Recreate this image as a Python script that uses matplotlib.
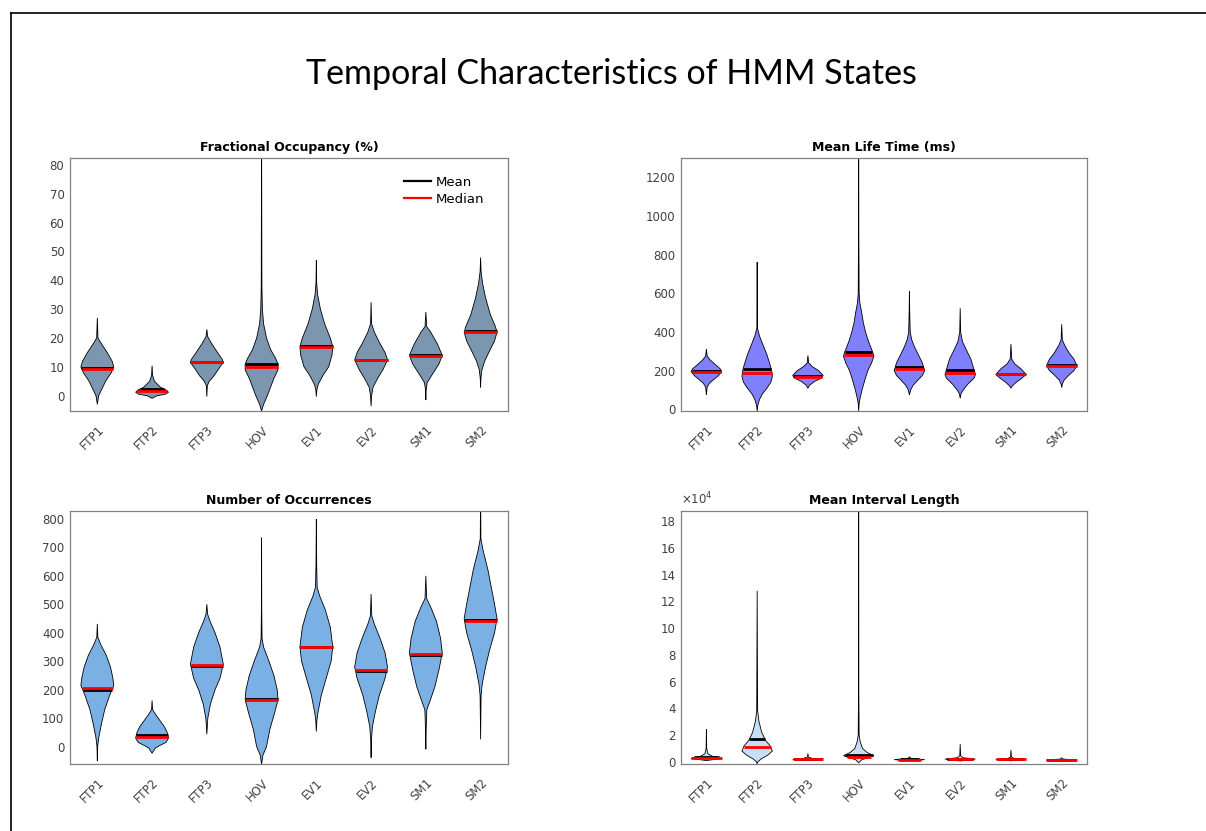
import numpy as np
import matplotlib
matplotlib.use("Agg")
import matplotlib.pyplot as plt
from matplotlib.lines import Line2D
from matplotlib.ticker import FuncFormatter

states = ["FTP1", "FTP2", "FTP3", "HOV", "EV1", "EV2", "SM1", "SM2"]

# ---- Fractional Occupancy (%) ----
fo_mean = [9.6, 2.3, 11.7, 11.1, 17.2, 12.4, 14.2, 22.6]
fo_median = [9.2, 1.7, 11.6, 10.1, 17.0, 12.4, 13.9, 22.0]
# density outline per state: levels (top to bottom) and relative half-widths
fo_levels = [
    [27, 20, 18, 15, 12, 10, 8, 5, 2, 0, -3],
    [10.4, 7, 5, 3, 2, 1.2, 0.5, 0, -0.9],
    [23, 20.5, 18, 15, 12.5, 11.5, 10, 7, 5, 3.5, -0.3],
    [95, 38, 30, 25, 20, 16, 13, 11, 9, 6, 3, 0, -3, -5.3],
    [47, 39, 35, 30, 25, 20, 17, 14, 10, 7, 4, 2, -0.3],
    [32.4, 25, 22, 18, 15, 12.4, 9, 6, 3, 0, -3.6],
    [29, 24, 22, 18, 14, 11, 7, 4.5, 2, -1.5],
    [47.9, 43, 39, 34, 28, 24, 22, 19, 15, 12, 9, 6, 2.9],
]
fo_widths = [
    [0, 0.04, 0.25, 0.6, 0.9, 1.0, 0.85, 0.5, 0.25, 0.08, 0],
    [0, 0.03, 0.15, 0.5, 0.85, 1.0, 0.8, 0.3, 0],
    [0, 0.05, 0.3, 0.65, 0.95, 1.0, 0.8, 0.45, 0.15, 0.03, 0],
    [0, 0.02, 0.05, 0.12, 0.3, 0.55, 0.85, 1.0, 1.0, 0.75, 0.55, 0.35, 0.12, 0],
    [0, 0.02, 0.08, 0.25, 0.5, 0.85, 1.0, 0.95, 0.75, 0.4, 0.12, 0.03, 0],
    [0, 0.03, 0.2, 0.55, 0.85, 1.0, 0.72, 0.4, 0.12, 0.03, 0],
    [0, 0.05, 0.3, 0.7, 1.0, 0.8, 0.35, 0.08, 0.02, 0],
    [0, 0.03, 0.12, 0.3, 0.6, 0.9, 1.0, 0.85, 0.5, 0.25, 0.08, 0.02, 0],
]

# ---- Mean Life Time (ms) ----
lt_mean = [199, 207, 170, 299, 221, 204, 185, 230]
lt_median = [192, 190, 169, 282, 207, 187, 181, 225]
lt_levels = [
    [312, 275, 255, 230, 210, 195, 175, 155, 135, 115, 74],
    [762, 420, 380, 330, 280, 230, 200, 170, 140, 110, 80, 50, 20, -9],
    [278, 240, 220, 200, 175, 160, 145, 125, 109],
    [1500, 900, 600, 550, 500, 450, 400, 350, 300, 275, 240, 200, 150, 100, 60, 30, -9],
    [610, 500, 400, 360, 320, 280, 240, 200, 175, 150, 125, 100, 74],
    [523, 400, 350, 300, 260, 220, 180, 160, 130, 100, 80, 57],
    [337, 260, 235, 210, 180, 160, 140, 120, 109],
    [440, 360, 330, 290, 260, 225, 200, 175, 150, 130, 112],
]
lt_widths = [
    [0, 0.05, 0.25, 0.6, 0.9, 1.0, 0.8, 0.5, 0.2, 0.05, 0],
    [0, 0.02, 0.15, 0.4, 0.65, 0.85, 0.95, 1.0, 0.9, 0.65, 0.35, 0.15, 0.04, 0],
    [0, 0.05, 0.3, 0.7, 1.0, 0.85, 0.45, 0.12, 0],
    [0, 0.01, 0.03, 0.08, 0.2, 0.3, 0.45, 0.65, 0.9, 1.0, 0.85, 0.6, 0.4, 0.22, 0.1, 0.03, 0],
    [0, 0.02, 0.05, 0.15, 0.35, 0.6, 0.85, 1.0, 0.85, 0.55, 0.25, 0.08, 0],
    [0, 0.03, 0.15, 0.45, 0.7, 0.85, 1.0, 0.9, 0.5, 0.2, 0.05, 0],
    [0, 0.05, 0.25, 0.65, 1.0, 0.7, 0.35, 0.08, 0],
    [0, 0.04, 0.2, 0.5, 0.8, 1.0, 0.8, 0.45, 0.15, 0.04, 0],
]

# ---- Number of Occurrences ----
no_mean = [199, 40, 284, 166, 351, 266, 322, 444]
no_median = [205, 35, 286, 164, 349, 269, 327, 443]
no_levels = [
    [431, 385, 360, 320, 280, 240, 215, 180, 130, 80, 30, 0, -50],
    [162, 130, 110, 90, 70, 50, 30, 15, 5, -5, -23],
    [500, 465, 440, 400, 350, 290, 240, 200, 150, 100, 44],
    [734, 480, 380, 350, 300, 250, 200, 165, 120, 60, 0, -30, -62],
    [799, 640, 560, 530, 480, 420, 350, 300, 240, 180, 120, 90, 53],
    [536, 460, 430, 380, 330, 280, 240, 180, 120, 70, 20, -39],
    [600, 520, 490, 440, 380, 330, 270, 210, 160, 130, 60, -9],
    [900, 730, 690, 620, 560, 500, 450, 400, 340, 280, 220, 180, 26],
]
no_widths = [
    [0, 0.03, 0.2, 0.55, 0.8, 0.95, 1.0, 0.75, 0.45, 0.25, 0.08, 0.02, 0],
    [0, 0.03, 0.25, 0.5, 0.75, 0.92, 1.0, 0.85, 0.5, 0.2, 0],
    [0, 0.05, 0.2, 0.5, 0.8, 1.0, 0.8, 0.5, 0.22, 0.06, 0],
    [0, 0.01, 0.03, 0.12, 0.45, 0.75, 0.95, 1.0, 0.8, 0.5, 0.3, 0.08, 0],
    [0, 0.02, 0.05, 0.2, 0.55, 0.85, 1.0, 0.9, 0.6, 0.3, 0.1, 0.03, 0],
    [0, 0.04, 0.2, 0.55, 0.85, 1.0, 0.85, 0.5, 0.25, 0.08, 0.02, 0],
    [0, 0.05, 0.3, 0.65, 0.9, 1.0, 0.8, 0.55, 0.25, 0.06, 0.02, 0],
    [0, 0.02, 0.15, 0.45, 0.65, 0.85, 1.0, 0.85, 0.55, 0.3, 0.1, 0.03, 0],
]

# ---- Mean Interval Length ----
il_mean = [3200, 16700, 1900, 5000, 2000, 2200, 2000, 1300]
il_median = [2500, 11200, 1800, 3700, 1300, 1700, 1800, 1200]
il_levels = [
    [24300, 10000, 6000, 4000, 3000, 2500, 1800, 1200, 800],
    [128000, 38000, 30000, 22000, 16000, 12000, 8000, 5000, 2000, 0, -1500],
    [6200, 3500, 2500, 1800, 1200, 800],
    [250000, 52000, 20000, 15000, 10000, 7000, 4500, 3000, 1500, -800],
    [3700, 2500, 2000, 1600, 1000, 500],
    [13200, 4500, 3000, 2000, 1200, 600],
    [8700, 3500, 2500, 1800, 1200, 700],
    [3000, 2000, 1400, 1200, 800, 400],
]
il_widths = [
    [0, 0.02, 0.1, 0.4, 0.9, 1.0, 0.6, 0.2, 0],
    [0, 0.03, 0.12, 0.3, 0.55, 0.85, 1.0, 0.7, 0.25, 0.05, 0],
    [0, 0.03, 0.3, 1.0, 0.4, 0],
    [0, 0.01, 0.03, 0.1, 0.25, 0.55, 1.0, 0.6, 0.2, 0],
    [0, 0.1, 0.6, 1.0, 0.5, 0],
    [0, 0.03, 0.2, 1.0, 0.5, 0],
    [0, 0.03, 0.2, 1.0, 0.4, 0],
    [0, 0.1, 0.9, 1.0, 0.4, 0],
]

HALF = 0.3
TICK_COLOR = "#404040"
EDGE_COLOR = "#808080"


def draw_violins(ax, levels, widths, means, medians, face):
    for i, (lv, wd) in enumerate(zip(levels, widths), start=1):
        y = np.asarray(lv, float)
        w = np.asarray(wd, float) * HALF
        xs = np.concatenate([i + w, (i - w)[::-1]])
        ys = np.concatenate([y, y[::-1]])
        ax.fill(xs, ys, facecolor=face, edgecolor="black", linewidth=0.6, zorder=2)
        ya, wa = y[::-1], w[::-1]
        for val, col in ((means[i - 1], "black"), (medians[i - 1], "red")):
            h = np.interp(val, ya, wa)
            ax.plot([i - h, i + h], [val, val], color=col, linewidth=2.0,
                    solid_capstyle="butt", zorder=3)


def style_axes(ax, title, ylim, yticks):
    ax.set_xlim(0.5, 8.5)
    ax.set_ylim(*ylim)
    ax.set_yticks(yticks)
    ax.set_xticks(range(1, 9))
    ax.set_xticklabels(states, rotation=45, ha="right", rotation_mode="anchor")
    ax.tick_params(length=0, labelsize=8.5, labelcolor=TICK_COLOR, pad=4)
    ax.tick_params(axis="x", pad=9)
    for sp in ax.spines.values():
        sp.set_color(EDGE_COLOR)
        sp.set_linewidth(0.9)
    ax.set_title(title, fontsize=9, fontweight="bold", pad=5)


fig = plt.figure(figsize=(12.06, 8.31), dpi=100)
fig.patch.set_facecolor("white")

ax1 = fig.add_axes([0.058, 0.5054, 0.3632, 0.3048])
ax2 = fig.add_axes([0.5647, 0.5054, 0.3367, 0.3048])
ax3 = fig.add_axes([0.058, 0.0806, 0.3632, 0.3049])
ax4 = fig.add_axes([0.5647, 0.0806, 0.3367, 0.3049])

draw_violins(ax1, fo_levels, fo_widths, fo_mean, fo_median, "#7b96ae")
style_axes(ax1, "Fractional Occupancy (%)", (-5.3, 82.5), range(0, 81, 10))
ax1.legend(handles=[Line2D([], [], color="black", lw=1.6, label="Mean"),
                    Line2D([], [], color="red", lw=1.6, label="Median")],
           loc="upper right", bbox_to_anchor=(0.96, 0.955), frameon=False,
           fontsize=9.5, handlelength=2.1, handletextpad=0.3,
           borderpad=0, labelspacing=0.3)

draw_violins(ax2, lt_levels, lt_widths, lt_mean, lt_median, "#8080ff")
style_axes(ax2, "Mean Life Time (ms)", (-9, 1302), range(0, 1201, 200))

draw_violins(ax3, no_levels, no_widths, no_mean, no_median, "#7bb0e4")
style_axes(ax3, "Number of Occurrences", (-61, 829), range(0, 801, 100))

draw_violins(ax4, il_levels, il_widths, il_mean, il_median, "#c6dff6")
style_axes(ax4, "Mean Interval Length", (-1700, 188000), range(0, 180001, 20000))
ax4.yaxis.set_major_formatter(FuncFormatter(lambda v, _: f"{v / 1e4:g}"))
ax4.text(0.0, 1.012, r"$\times10^{4}$", transform=ax4.transAxes, fontsize=8.5,
         color=TICK_COLOR, ha="left", va="bottom")

fig.text(611 / 1206, 1 - 74 / 831, "Temporal Characteristics of HMM States",
         ha="center", va="center", fontsize=24.5, family="Lato")

# outer frame lines along the top and left edges
fig.add_artist(Line2D([11 / 1206, 1.0], [1 - 13 / 831, 1 - 13 / 831],
                      transform=fig.transFigure, color="black", lw=1.2))
fig.add_artist(Line2D([11 / 1206, 11 / 1206], [0.0, 1 - 13 / 831],
                      transform=fig.transFigure, color="black", lw=1.2))

fig.savefig("out.png", dpi=100)
